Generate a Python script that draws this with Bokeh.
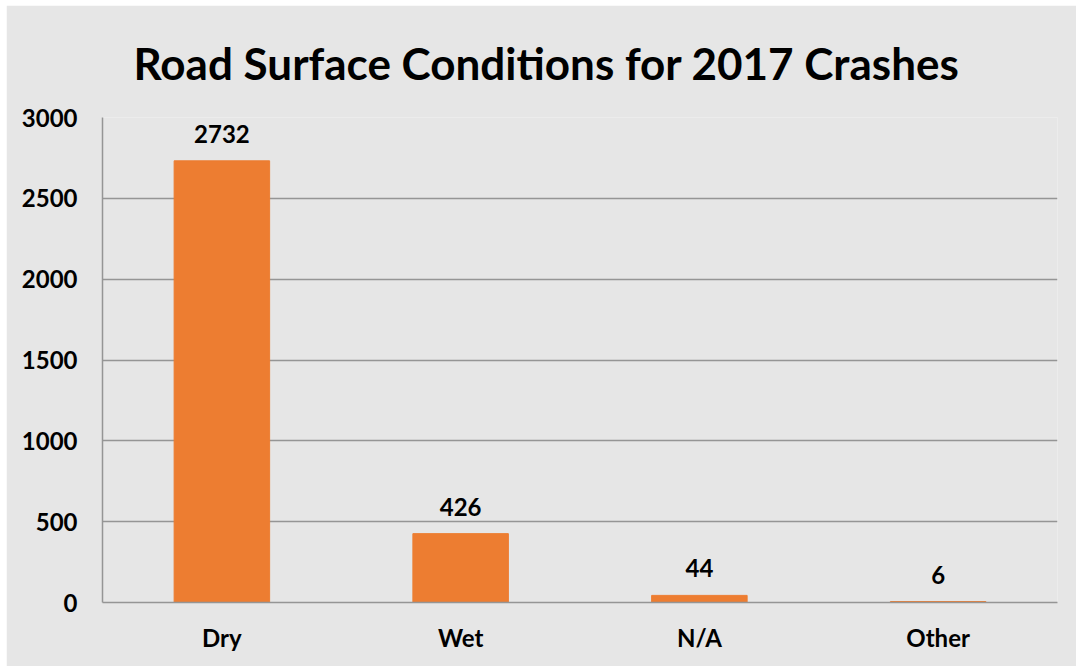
from bokeh.plotting import figure
from bokeh.models import ColumnDataSource, FixedTicker, Range1d, Spacer
from bokeh.layouts import column, row
from bokeh.core.properties import value
from bokeh.embed import file_html
from bokeh.resources import INLINE

categories = ["Dry", "Wet", "N/A", "Other"]
counts = [2732, 426, 44, 6]
y_ticks = [0, 500, 1000, 1500, 2000, 2500, 3000]
title_text = "Road Surface Conditions for 2017 Crashes"

FONT = "Lato"
BG = "#e6e6e6"
GRID = "#959595"

src = ColumnDataSource(dict(cat=categories, val=counts, lab=[str(v) for v in counts]))

p = figure(x_range=categories, y_range=Range1d(0, 3000), width=1070, height=661,
           output_backend="svg", toolbar_location=None,
           min_border_left=96, min_border_right=19, min_border_top=112, min_border_bottom=64,
           background_fill_color=BG, border_fill_color=BG, outline_line_color=None)

p.title.text = title_text
p.title.text_font = FONT
p.title.text_font_size = "44px"
p.title.text_font_style = "bold"
p.title.text_color = "black"
p.title.align = "left"
p.title.vertical_align = "top"
p.title.standoff = 54
p.title.offset = 31

p.vbar(x="cat", top="val", width=0.4, source=src, color="#ED7D31")
p.text(x="cat", y="val", text="lab", source=src, y_offset=-18,
       text_align="center", text_baseline="bottom",
       text_font=value(FONT), text_font_style="bold", text_font_size="24px", text_color="black")

p.yaxis.ticker = FixedTicker(ticks=y_ticks)
for ax in (p.xaxis, p.yaxis):
    ax.major_tick_line_color = None
    ax.minor_tick_line_color = None
    ax.axis_line_color = GRID
    ax.axis_line_width = 1.5
    ax.major_label_text_font = FONT
    ax.major_label_text_font_style = "bold"
    ax.major_label_text_color = "black"
p.yaxis.major_label_text_font_size = "24px"
p.xaxis.major_label_text_font_size = "24px"
p.yaxis.major_label_standoff = 19
p.xaxis.major_label_standoff = 14
p.xgrid.grid_line_color = None
p.ygrid.grid_line_color = GRID
p.ygrid.grid_line_width = 1.5

layout = column(Spacer(height=5), row(Spacer(width=6), p))
open("out.html", "w").write(file_html(layout, INLINE))
